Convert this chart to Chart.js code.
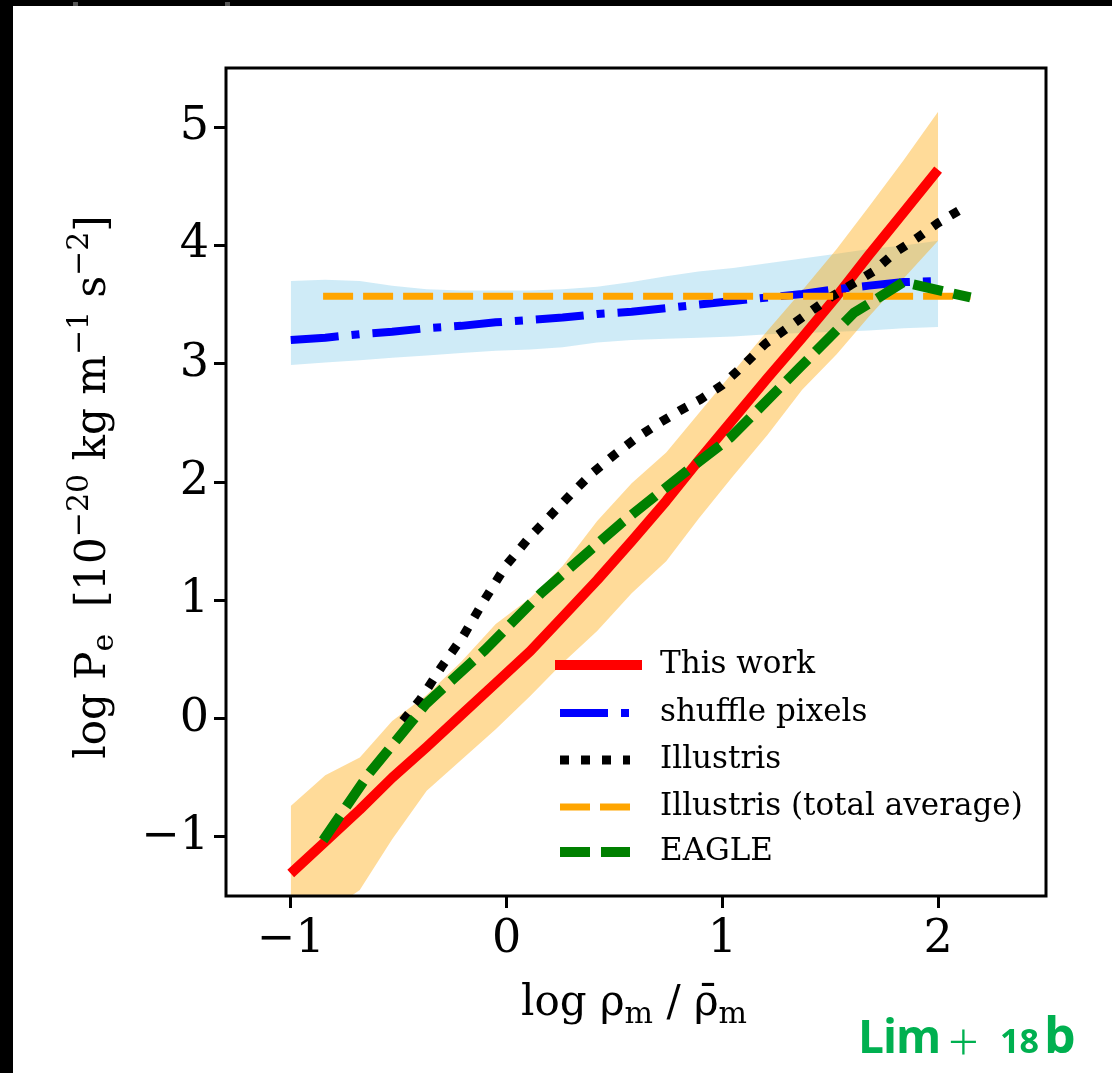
<!DOCTYPE html>
<html><head><meta charset="utf-8">
<script src="https://cdn.jsdelivr.net/npm/chart.js@4/dist/chart.umd.min.js"></script>
<style>
html,body{margin:0;padding:0;background:#000;width:1112px;height:1073px;overflow:hidden;}
#wrap{position:absolute;left:13px;top:6px;width:1099px;height:1067px;background:#fff;}
#c{position:absolute;left:0;top:0;}
.mark{position:absolute;background:#555;}
.tag{position:absolute;color:#00b050;font-family:'Open Sans';white-space:nowrap;line-height:1;}
</style></head><body>
<div class="mark" style="left:73px;top:2px;width:5px;height:4px"></div>
<div class="mark" style="left:225px;top:2px;width:5px;height:4px"></div>
<div id="wrap"><canvas id="c" width="1099" height="1067"></canvas>
<div class="tag" style="left:845px;top:1006px;font-size:46px;font-weight:700;letter-spacing:-1px">Lim</div>
<div class="tag" style="left:935px;top:1007px;font-size:54px;font-weight:300">+</div>
<div class="tag" style="left:987px;top:1017px;font-size:34px;font-weight:700">18</div>
<div class="tag" style="left:1031px;top:1003px;font-size:50px;font-weight:700">b</div>
</div>
<script>
// ---- data ----
const xTicks = [-1, 0, 1, 2];
const yTicks = [-1, 0, 1, 2, 3, 4, 5];
const seriesNames = ['This work', 'shuffle pixels', 'Illustris', 'Illustris (total average)', 'EAGLE'];

const xBins = [-1.00,-0.84,-0.68,-0.53,-0.37,-0.21,-0.05,0.11,0.26,0.42,0.58,0.74,0.89,1.05,1.21,1.37,1.53,1.68,1.84,2.00];
const thisWork   = [-1.31,-1.04,-0.77,-0.50,-0.24,0.03,0.30,0.57,0.86,1.17,1.50,1.84,2.18,2.53,2.88,3.22,3.57,3.92,4.28,4.64];
const thisWorkHi = [-0.74,-0.48,-0.33,-0.02,0.20,0.48,0.80,1.02,1.29,1.67,1.99,2.25,2.58,2.93,3.28,3.62,3.97,4.33,4.72,5.13];
const thisWorkLo = [-1.85,-1.65,-1.45,-1.02,-0.61,-0.35,-0.09,0.19,0.47,0.74,1.06,1.33,1.69,2.05,2.40,2.78,3.08,3.40,3.72,4.04];

const shuffle   = [3.20,3.22,3.25,3.27,3.30,3.32,3.35,3.37,3.39,3.42,3.44,3.47,3.50,3.53,3.56,3.59,3.63,3.66,3.69,3.70];
const shuffleHi = [3.70,3.71,3.70,3.66,3.63,3.62,3.62,3.62,3.63,3.65,3.69,3.74,3.78,3.81,3.85,3.89,3.93,3.97,4.00,4.04];
const shuffleLo = [2.99,3.01,3.03,3.05,3.07,3.09,3.11,3.12,3.14,3.18,3.20,3.21,3.22,3.23,3.25,3.26,3.27,3.28,3.30,3.31];

const illustrisX = [-0.48,-0.40,-0.30,-0.20,-0.10,0.00,0.10,0.20,0.30,0.40,0.50,0.60,0.70,0.80,0.90,1.00,1.10,1.20,1.30,1.40,1.50,1.60,1.70,1.80,1.90,2.00,2.12];
const illustrisY = [-0.02,0.16,0.44,0.70,1.01,1.30,1.52,1.71,1.90,2.08,2.23,2.37,2.49,2.60,2.70,2.82,2.99,3.17,3.30,3.43,3.56,3.67,3.78,3.94,4.06,4.19,4.32];

const illAvgX = [-0.85, 2.15];
const illAvgY = [3.57, 3.57];

const eagleX = [-0.85,-0.64,-0.50,-0.37,-0.10,0.16,0.53,0.84,1.04,1.36,1.61,1.84,2.15];
const eagleY = [-1.03,-0.47,-0.16,0.13,0.58,1.06,1.65,2.10,2.38,2.97,3.43,3.69,3.56];

// ---- helpers ----
const pts = (xs, ys) => xs.map((x, i) => ({x: x, y: ys[i]}));
const SERIF = "'DejaVu Serif', serif";

const styles = {
  'This work': {color: '#ff0000', width: 10, dash: []},
  'shuffle pixels': {color: '#0000ff', width: 8, dash: [48, 13, 8, 13]},
  'Illustris': {color: '#000000', width: 9, dash: [9, 12]},
  'Illustris (total average)': {color: '#ffa500', width: 7, dash: [30, 10]},
  'EAGLE': {color: '#008000', width: 10, dash: [30, 11]}
};
function lineDs(name, data) {
  const s = styles[name];
  return {label: name, data: data, borderColor: s.color, borderWidth: s.width, borderDash: s.dash,
          borderCapStyle: 'butt', borderJoinStyle: 'round', pointRadius: 0, fill: false, tension: 0};
}
function bandDs(label, data, fillColor, fillTarget) {
  return {label: label, data: data, borderColor: 'rgba(0,0,0,0)', borderWidth: 0, pointRadius: 0,
          backgroundColor: fillColor, fill: fillTarget, tension: 0};
}

function drawRich(ctx, segs, cx, cy) {
  let total = 0;
  segs.forEach(s => { ctx.font = s[1] + 'px ' + SERIF; s.w = ctx.measureText(s[0]).width; total += s.w; });
  let x = cx - total / 2;
  ctx.textBaseline = 'alphabetic'; ctx.textAlign = 'left'; ctx.fillStyle = '#000';
  segs.forEach(s => { ctx.font = s[1] + 'px ' + SERIF; ctx.fillText(s[0], x, cy + s[2]); x += s.w; });
}

const decorPlugin = {
  id: 'decor',
  afterDraw(chart) {
    const ctx = chart.ctx, a = chart.chartArea;
    ctx.save();
    // spines
    ctx.strokeStyle = '#000'; ctx.lineWidth = 3; ctx.setLineDash([]);
    ctx.strokeRect(a.left, a.top, a.right - a.left, a.bottom - a.top);
    // legend
    const rows = [659, 707, 754, 801, 846];
    seriesNames.forEach((n, i) => {
      const s = styles[n];
      ctx.beginPath();
      ctx.strokeStyle = s.color; ctx.lineWidth = s.width; ctx.lineCap = 'butt';
      ctx.setLineDash(s.dash);
      const x0 = (n === 'This work') ? 542 : 547, x1 = (n === 'This work') ? 629 : 617;
      ctx.moveTo(x0, rows[i]); ctx.lineTo(x1, rows[i]); ctx.stroke();
      ctx.setLineDash([]);
      ctx.fillStyle = '#000'; ctx.font = '31px ' + SERIF; ctx.textBaseline = 'middle'; ctx.textAlign = 'left';
      ctx.fillText(n, 647, rows[i]);
    });
    // axis titles
    drawRich(ctx, [['log \u03c1', 42, 0], ['m', 30, 8], [' / ', 42, 0], ['\u03c1\u0304', 42, 0], ['m', 30, 8]], 621, 1009);
    ctx.translate(92, 481); ctx.rotate(-Math.PI / 2);
    drawRich(ctx, [['log P', 42, 0], ['e', 30, 8], ['  [10', 42, 0], ['\u221220', 30, -17], [' kg m', 42, 0],
                   ['\u22121', 30, -17], [' s', 42, 0], ['\u22122', 30, -17], [']', 42, 0]], 0, 0);
    ctx.restore();
  }
};

const fmt = v => (v < 0 ? '\u2212' + Math.abs(v) : String(v));

new Chart(document.getElementById('c'), {
  type: 'line',
  data: {
    datasets: [
      lineDs('EAGLE', pts(eagleX, eagleY)),
      lineDs('Illustris (total average)', pts(illAvgX, illAvgY)),
      lineDs('Illustris', pts(illustrisX, illustrisY)),
      lineDs('shuffle pixels', pts(xBins, shuffle)),
      lineDs('This work', pts(xBins, thisWork)),
      bandDs('this work upper', pts(xBins, thisWorkHi), 'rgba(255,165,0,0.4)', '+1'),
      bandDs('this work lower', pts(xBins, thisWorkLo), 'rgba(0,0,0,0)', false),
      bandDs('shuffle upper', pts(xBins, shuffleHi), 'rgba(135,206,235,0.4)', '+1'),
      bandDs('shuffle lower', pts(xBins, shuffleLo), 'rgba(0,0,0,0)', false)
    ]
  },
  options: {
    responsive: false, animation: false, devicePixelRatio: 1,
    layout: {padding: {left: 0, top: 62, right: 66, bottom: 0}},
    plugins: {legend: {display: false}, tooltip: {enabled: false}, filler: {propagate: false}},
    scales: {
      x: {type: 'linear', min: -1.3, max: 2.5,
          afterFit: s => { s.height = 177; },
          afterBuildTicks: s => { s.ticks = xTicks.map(v => ({value: v})); },
          border: {display: false},
          grid: {display: true, drawOnChartArea: false, drawTicks: true, tickLength: 12, tickWidth: 3, tickColor: '#000', color: '#000'},
          ticks: {callback: fmt, font: {family: SERIF, size: 46}, color: '#000', padding: 4, maxRotation: 0, autoSkip: false}},
      y: {type: 'linear', min: -1.5, max: 5.5,
          afterFit: s => { s.width = 213; },
          afterBuildTicks: s => { s.ticks = yTicks.map(v => ({value: v})); },
          border: {display: false},
          grid: {display: true, drawOnChartArea: false, drawTicks: true, tickLength: 12, tickWidth: 3, tickColor: '#000', color: '#000'},
          ticks: {callback: fmt, font: {family: SERIF, size: 46}, color: '#000', padding: 5, autoSkip: false}}
    }
  },
  plugins: [decorPlugin]
});
</script>
</body></html>
